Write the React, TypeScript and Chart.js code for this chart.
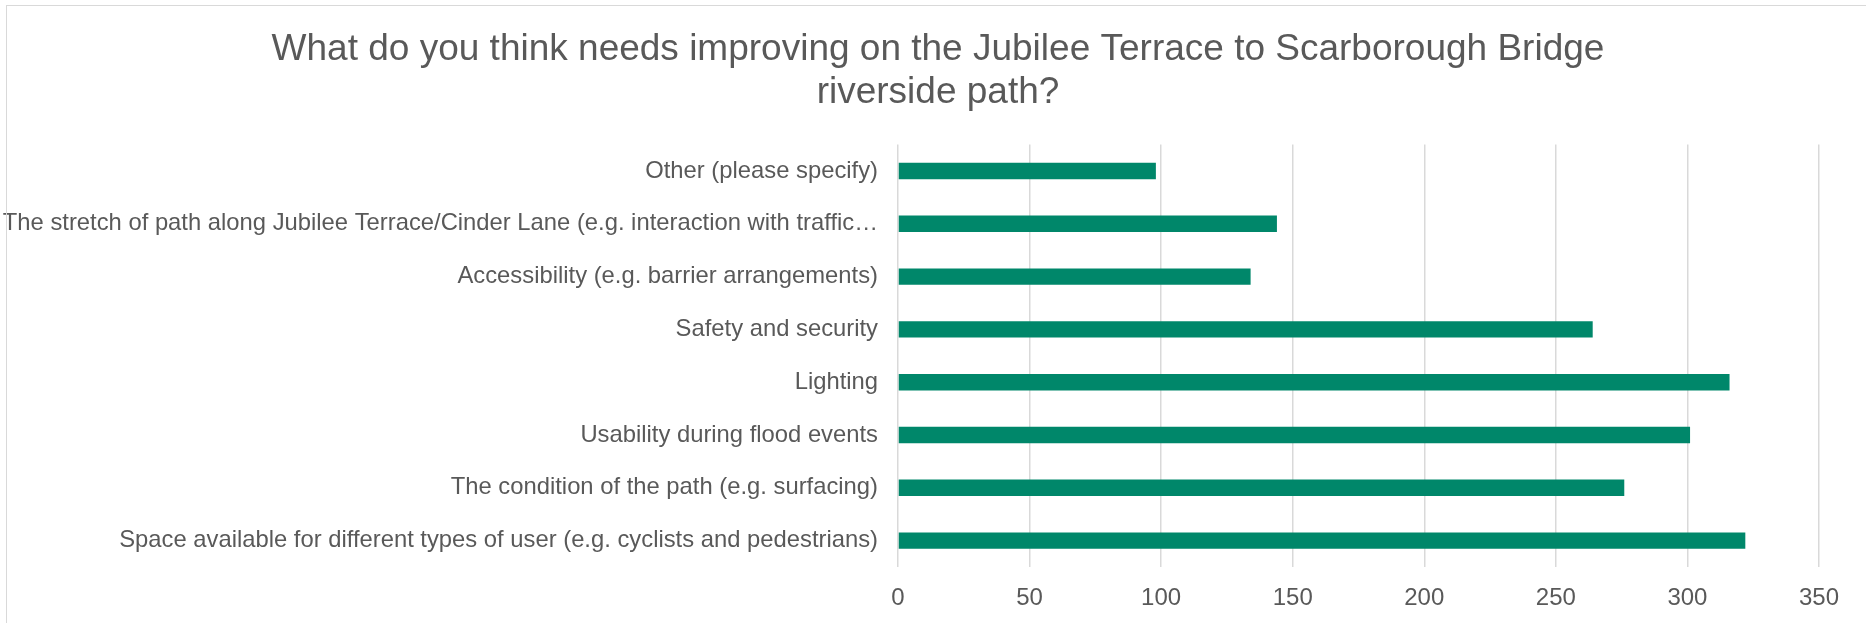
import React, { useEffect, useRef } from "react";
import { Chart, registerables } from "chart.js";

Chart.register(...registerables);

const titleLines: string[] = [
  "What do you think needs improving on the Jubilee Terrace to Scarborough Bridge",
  "riverside path?",
];

const categories: string[] = [
  "Other (please specify)",
  "The stretch of path along Jubilee Terrace/Cinder Lane (e.g. interaction with traffic…",
  "Accessibility (e.g. barrier arrangements)",
  "Safety and security",
  "Lighting",
  "Usability during flood events",
  "The condition of the path (e.g. surfacing)",
  "Space available for different types of user (e.g. cyclists and pedestrians)",
];

const responses: number[] = [98, 144, 134, 264, 316, 301, 276, 322];

const xTicks: number[] = [0, 50, 100, 150, 200, 250, 300, 350];

const FONT = "'Liberation Sans', Arial, Helvetica, sans-serif";
const TEXT = "#595959";

const unclipLabels = {
  id: "unclipLabels",
  afterLayout(chart: any) {
    const y = chart.scales.y;
    if (y) y.left = 0;
  },
};

export default function App() {
  const ref = useRef<HTMLCanvasElement | null>(null);

  useEffect(() => {
    if (!ref.current) return;
    const chart = new Chart(ref.current, {
      type: "bar",
      data: {
        labels: categories,
        datasets: [
          {
            label: "Responses",
            data: responses,
            backgroundColor: "#00876A",
            borderWidth: 0,
            barPercentage: 0.31,
            categoryPercentage: 1,
          },
        ],
      },
      plugins: [unclipLabels],
      options: {
        indexAxis: "y",
        animation: false,
        responsive: false,
        maintainAspectRatio: false,
        layout: { padding: { left: 57, right: 47, top: 0, bottom: 0 } },
        plugins: {
          legend: { display: false },
          tooltip: { enabled: false },
          title: {
            display: true,
            text: titleLines,
            color: TEXT,
            font: { family: FONT, size: 37, weight: "normal", lineHeight: 1.17 },
            padding: { top: 28, bottom: 30 },
          },
        },
        scales: {
          x: {
            min: 0,
            max: xTicks[xTicks.length - 1],
            afterBuildTicks: (scale: any) => {
              scale.ticks = xTicks.map((v) => ({ value: v }));
            },
            afterFit: (scale: any) => {
              scale.height = 56;
            },
            grid: { color: "#d9d9d9", lineWidth: 1.5, drawTicks: false },
            border: { display: false },
            ticks: {
              color: TEXT,
              font: { family: FONT, size: 24 },
              padding: 17,
            },
          },
          y: {
            afterFit: (scale: any) => {
              scale.width = 841;
            },
            grid: { display: false, drawTicks: false },
            border: { display: false },
            ticks: {
              color: TEXT,
              font: { family: FONT, size: 23.8 },
              padding: 20,
              autoSkip: false,
            },
          },
        },
      },
    });
    return () => chart.destroy();
  }, []);

  return (
    <div
      style={{
        position: "absolute",
        left: 0,
        top: 0,
        width: 1866,
        height: 623,
        overflow: "hidden",
        background: "#ffffff",
      }}
    >
      <canvas ref={ref} width={1866} height={623} style={{ position: "absolute", left: 0, top: 0 }} />
      <div
        style={{
          position: "absolute",
          left: 6,
          top: 5,
          width: 1900,
          height: 700,
          border: "1.5px solid #d9d9d9",
          pointerEvents: "none",
        }}
      />
    </div>
  );
}
